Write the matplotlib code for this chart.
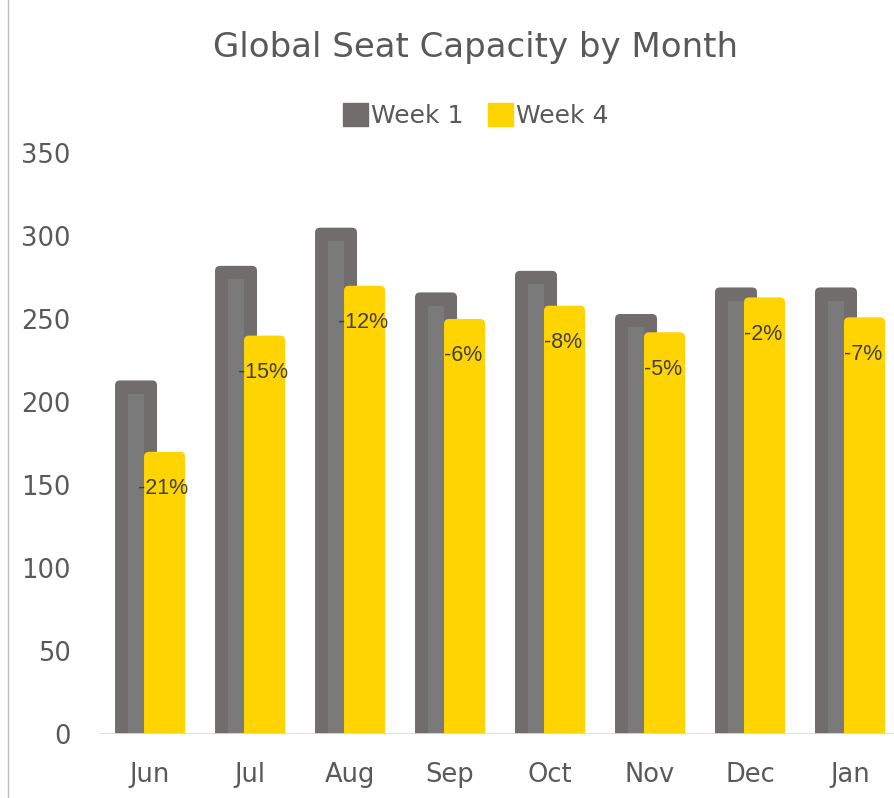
import matplotlib
matplotlib.use("Agg")
import matplotlib.pyplot as plt
from matplotlib.lines import Line2D
from matplotlib.patches import Patch, FancyBboxPatch

months = ["Jun", "Jul", "Aug", "Sep", "Oct", "Nov", "Dec", "Jan"]
week1 = [213, 282, 305, 266, 279, 253, 269, 269]
week4 = [170, 240, 270, 250, 258, 242, 263, 251]
change_labels = ["-21%", "-15%", "-12%", "-6%", "-8%", "-5%", "-2%", "-7%"]
yticks = [0, 50, 100, 150, 200, 250, 300, 350]

GRAY_OUT = "#716d6c"
GRAY_IN = "#7a7a7a"
YELLOW = "#ffd400"
TEXT = "#595959"
FONT = "DejaVu Sans"
LABEL_FONT = "Liberation Sans"

fig = plt.figure(figsize=(8.94, 7.98), dpi=100)
ax = fig.add_axes([0.1119, 0.0802, 0.8881, 0.7281])
ax.set_xlim(-0.5, 7.44)
ax.set_ylim(0, 350)

x = list(range(len(months)))
xg = [i - 0.14 for i in x]
xy = [i + 0.145 for i in x]

# aspect for rounded corners: pixels per x unit / pixels per y unit
px_x = 0.8881 * 894 / 7.94
px_y = 0.7281 * 798 / 350
aspect = px_x / px_y


def rounded(bars, color, z):
    for r in bars:
        r.set_visible(False)
        x0, w, h = r.get_x(), r.get_width(), r.get_height()
        p = FancyBboxPatch((x0, -10), w, h + 10,
                           boxstyle="round,pad=0,rounding_size=0.05",
                           mutation_aspect=aspect,
                           facecolor=color, edgecolor="none", zorder=z)
        ax.add_patch(p)


b1 = ax.bar(xg, week1, width=0.42, color=GRAY_OUT, zorder=2)
rounded(b1, GRAY_OUT, 2)
inner_top = [v - 8 for v in week1]
ax.bar(xg, inner_top, width=0.16, color=GRAY_IN, zorder=2.5)
b4 = ax.bar(xy, week4, width=0.41, color=YELLOW, zorder=3)
rounded(b4, YELLOW, 3)

for xi, v, lab in zip(xy, week4, change_labels):
    ax.annotate(lab, (xi, v), xytext=(-1, -26.5), textcoords="offset points",
                ha="center", va="center", fontsize=15.5, color="#404040", zorder=4,
                family=LABEL_FONT)

ax.set_yticks(yticks)
ax.set_xticks(x)
ax.set_xticklabels(months)
for s in ax.spines.values():
    s.set_visible(False)
ax.axhline(0, color="#d9d9d9", lw=2, zorder=5)
ax.tick_params(axis="both", length=0, labelsize=18.5, colors=TEXT)
ax.tick_params(axis="y", pad=21)
ax.tick_params(axis="x", pad=20)
for t in ax.get_xticklabels() + ax.get_yticklabels():
    t.set_family(FONT)

fig.text(0.532, 0.94, "Global Seat Capacity by Month", ha="center", va="center",
         fontsize=24.5, color=TEXT, family=FONT)

handles = [Patch(facecolor=GRAY_OUT, edgecolor=GRAY_OUT),
           Patch(facecolor=YELLOW, edgecolor=YELLOW)]
fig.legend(handles, ["Week 1", "Week 4"], loc="center", bbox_to_anchor=(0.532, 0.855),
           ncol=2, frameon=False, prop={"family": FONT, "size": 18}, labelcolor=TEXT,
           handlelength=1.0, handleheight=1.0, handletextpad=0.1, columnspacing=1.0)

fig.add_artist(Line2D([0.009, 0.009], [0, 1], transform=fig.transFigure,
                      color="#bfbfbf", lw=1))

fig.savefig("out.png", dpi=100)
